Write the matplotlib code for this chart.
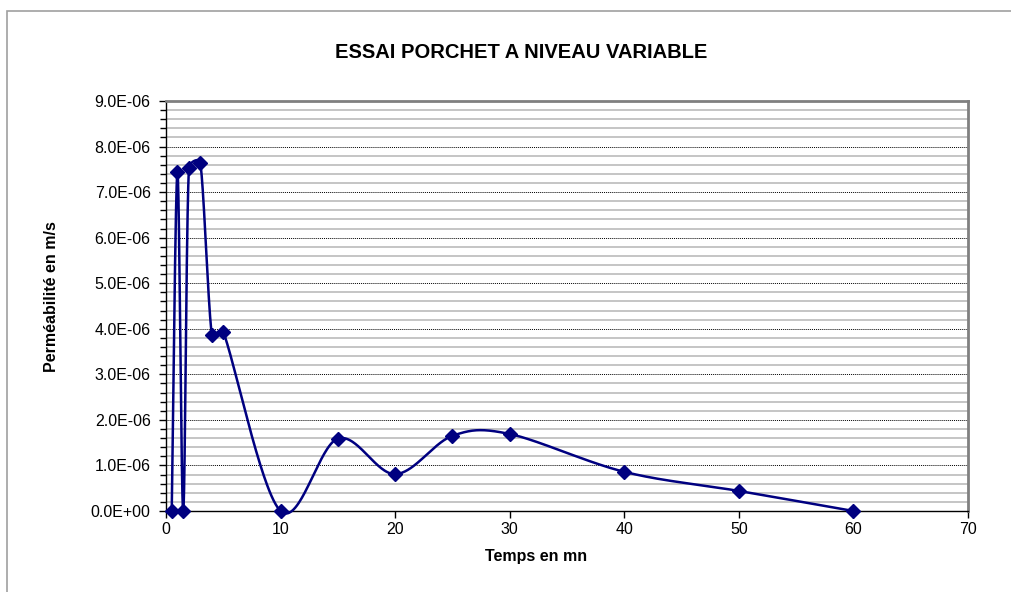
import numpy as np
import matplotlib
matplotlib.use("Agg")
import matplotlib.pyplot as plt
from matplotlib.patches import Rectangle
from matplotlib.ticker import MultipleLocator, FuncFormatter

# Data
temps = [0.5, 1, 1.5, 2, 3, 4, 5, 10, 15, 20, 25, 30, 40, 50, 60]
permeabilite = [0.0, 7.44e-06, 0.0, 7.53e-06, 7.64e-06, 3.87e-06, 3.93e-06, 0.0,
                1.59e-06, 0.81e-06, 1.65e-06, 1.69e-06, 0.86e-06, 0.44e-06, 0.0]
title = "ESSAI PORCHET A NIVEAU VARIABLE"
xlabel = "Temps en mn"
ylabel = "Perméabilité en m/s"

W, H = 1012, 592
fig = plt.figure(figsize=(W / 100, H / 100), dpi=100)
plt.rcParams['font.family'] = ['Liberation Sans', 'DejaVu Sans']

left, right, top, bottom = 166, 968, 101, 511
ax = fig.add_axes([left / W, 1 - bottom / H, (right - left) / W, (bottom - top) / H])
XMAX, YMAX = 70, 9e-6
ax.set_xlim(0, XMAX)
ax.set_ylim(0, YMAX)

# Outer chart border
fig.patches.append(Rectangle((7 / W, -0.1), 1.2, 1 - 11 / H + 0.1, transform=fig.transFigure,
                             fill=False, edgecolor='#a0a0a0', linewidth=1.2))

# Gridlines
ax.yaxis.set_major_locator(MultipleLocator(1e-6))
ax.yaxis.set_minor_locator(MultipleLocator(0.2e-6))
ax.xaxis.set_major_locator(MultipleLocator(10))
ax.grid(which='minor', axis='y', color='#c0c0c0', linewidth=1.3, linestyle='-')
ax.grid(which='major', axis='y', color='#000000', linewidth=0.7, linestyle=(0, (1, 1)))
ax.set_axisbelow(True)

# Excel-like smoothed line (Bezier in screen space, control offsets clamped)
pw, ph = right - left, bottom - top
P = np.column_stack([np.array(temps) / XMAX * pw, np.array(permeabilite) / YMAX * ph])
n = len(P)
curve = []
t = np.linspace(0, 1, 60)
for i in range(n - 1):
    p0 = P[i]
    p3 = P[i + 1]
    pm = P[i - 1] if i > 0 else P[i]
    pp = P[i + 2] if i + 2 < n else P[i + 1]
    dseg = np.linalg.norm(p3 - p0)
    o1 = (p3 - pm) / 6
    o2 = (pp - p0) / 6
    for o in (o1, o2):
        L = np.linalg.norm(o)
        if L > dseg / 2 and L > 0:
            o *= (dseg / 2) / L
    c1 = p0 + o1
    c2 = p3 - o2
    seg = ((1 - t)[:, None] ** 3 * p0 + 3 * ((1 - t) ** 2 * t)[:, None] * c1
           + 3 * ((1 - t) * t ** 2)[:, None] * c2 + (t ** 3)[:, None] * p3)
    curve.append(seg if i == 0 else seg[1:])
curve = np.vstack(curve)
cx = curve[:, 0] / pw * XMAX
cy = curve[:, 1] / ph * YMAX
ax.plot(cx, cy, color='#000080', linewidth=1.8, clip_on=False, zorder=3)
ax.plot(temps, permeabilite, linestyle='none', marker='D', markersize=7,
        color='#000080', clip_on=False, zorder=4)

# Spines
for s in ['top', 'right']:
    ax.spines[s].set_color('#808080')
    ax.spines[s].set_linewidth(2)
for s in ['left', 'bottom']:
    ax.spines[s].set_color('#000000')
    ax.spines[s].set_linewidth(1)

ax.yaxis.set_major_formatter(FuncFormatter(lambda v, p: f"{v:.1E}"))
ax.tick_params(axis='y', which='major', direction='out', length=5, width=1, labelsize=11.5, pad=6)
ax.tick_params(axis='y', which='minor', direction='out', length=4, width=1)
ax.tick_params(axis='x', which='major', direction='out', length=5, width=1, labelsize=11.5, pad=3)
ax.tick_params(axis='x', which='minor', length=0)

fig.text(521 / W, 1 - 52 / H, title, ha='center', va='center', fontsize=14.5, fontweight='bold')
fig.text(536 / W, 1 - 556 / H, xlabel, ha='center', va='center', fontsize=11.5, fontweight='bold')
fig.text(52 / W, 1 - 297 / H, ylabel, ha='center', va='center', fontsize=11.5,
         fontweight='bold', rotation=90)

fig.savefig("out.png", dpi=100)
